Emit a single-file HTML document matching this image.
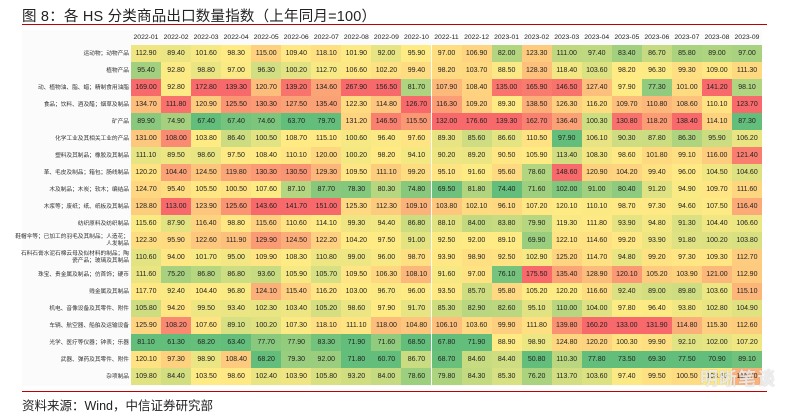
<!DOCTYPE html>
<html><head><meta charset="utf-8">
<style>
body{margin:0;width:789px;height:418px;background:#fff;position:relative;overflow:hidden;font-family:"Liberation Sans","Noto Sans CJK SC",sans-serif;}
#title{position:absolute;left:22px;top:5px;font-size:14.5px;color:#222;white-space:nowrap;letter-spacing:0.2px}
.rl{position:absolute;left:22px;height:1.5px;background:#c00000;width:745px}
#box{position:absolute;left:22px;top:30px;width:740px;height:356px;background:#fbfbfb;}
#tbl{position:absolute;left:22px;top:30px;}
.h{position:absolute;top:0;height:14.5px;line-height:15px;font-size:6.8px;color:#222;text-align:center;width:30px}
.lab{position:absolute;left:0;width:107px;font-size:5.7px;color:#333;display:flex;align-items:center;justify-content:flex-end;height:17px;padding-top:2px;box-sizing:border-box}
.lab span{display:block;text-align:right;line-height:6.8px;white-space:nowrap}
.c{position:absolute;width:30.05px;height:17px;line-height:17px;font-size:7px;color:#222;text-align:center}
#src{position:absolute;left:22px;top:395px;font-size:12.5px;color:#222}
#wm{position:absolute;left:700px;top:365px;font-size:18px;color:rgba(255,255,255,0.75);font-weight:bold;text-shadow:0 0 1px rgba(120,120,120,0.6);letter-spacing:1px}
</style></head><body>
<div id="title">图 8：各 HS 分类商品出口数量指数（上年同月=100）</div>
<div class="rl" style="top:23.5px"></div>
<div id="box"></div>
<div id="tbl"></div>
<div class="rl" style="top:390.5px"></div>
<div id="src">资料来源：Wind，中信证券研究部</div>
<div id="wm">明晰笔谈</div>
<script>
var cols=["2022-01","2022-02","2022-03","2022-04","2022-05","2022-06","2022-07","2022-08","2022-09","2022-10","2022-11","2022-12","2023-01","2023-02","2023-03","2023-04","2023-05","2023-06","2023-07","2023-08","2023-09"];
var rows=[
["运动物；动物产品",[112.9,89.4,101.6,98.3,115,109.4,118.1,101.9,92,95.9,97,106.9,82,123.3,111,97.4,83.4,86.7,85.8,89,97]],
["植物产品",[95.4,92.8,98.8,97,96.3,100.2,112.7,106.6,102.2,99.4,98.2,103.7,88.5,128.3,118.4,103.6,98.2,96.3,99.3,109,111.3]],
["动、植物油、脂、蜡；精制食用油脂",[169,92.8,172.8,139.3,120.7,139.2,134.6,267.9,156.5,81.7,107.9,108.4,135,165.9,146.5,127.4,97.9,77.3,101,141.2,98.1]],
["食品；饮料、酒及醋；烟草及制品",[134.7,111.8,120.9,125.5,130.3,127.5,135.4,122.3,114.8,126.7,116.3,109.2,89.3,138.5,126.3,116.2,109.7,110.8,108.6,110.1,123.7]],
["矿产品",[89.9,74.9,67.4,67.4,74.6,63.7,79.7,131.2,146.5,115.5,132,176.6,139.3,162.7,136.4,100.3,130.8,118.2,138.4,114.1,87.3]],
["化学工业及其相关工业的产品",[131,108,103.8,86.4,100.5,108.7,115.1,100.6,96.4,97.6,89.3,85.6,86.6,110.5,97.9,106.1,90.3,87.8,86.3,95.9,106.2]],
["塑料及其制品；橡胶及其制品",[111.1,89.5,98.6,97.5,108.4,110.1,120,100.2,98.2,94.1,90.2,89.2,90.5,105.9,113.4,108.3,98.6,101.8,99.1,116,121.4]],
["革、毛皮及制品；箱包；肠线制品",[120.2,104.4,124.5,119.8,130.3,130.5,129.3,109.5,111.1,99.2,95.1,91.6,95.6,78.6,148.6,120.9,104.2,99.4,96,104.5,104.6]],
["木及制品；木炭；软木；编结品",[124.7,95.4,105.5,100.5,107.6,87.1,87.7,78.3,80.3,74.8,69.5,81.8,74.4,71.6,102,91,80.4,91.2,94.9,109.7,111.6]],
["木浆等；废纸；纸、纸板及其制品",[128.8,113,123.9,125.6,143.6,141.7,151,125.3,112.3,109.1,103.8,102.1,96.1,107.2,120.1,110.1,98.7,97.3,94.6,107.5,116.4]],
["纺织原料及纺织制品",[115.6,87.9,116.4,98.8,115.6,110.6,114.1,99.3,94.4,86.8,88.1,84,83.8,79.9,119.3,111.8,93.9,94.8,91.3,104.4,106.6]],
["鞋帽伞等；已加工的羽毛及其制品；人造花；<br>人发制品",[122.3,95.9,122.6,111.9,129.9,124.5,122.2,104.2,97.5,91,92.5,92,89.1,69.9,122.1,114.6,99.2,93.9,91.8,100.2,103.8]],
["石料石膏水泥石棉云母及似材料的制品；陶<br>瓷产品；玻璃及其制品",[110.6,94,101.7,95,109.9,108.3,110.8,99,96,98.7,93.9,98.9,92.5,102.9,125.2,114.7,94.8,99.2,97.3,109.3,112.7]],
["珠宝、贵金属及制品；仿首饰；硬币",[111.6,75.2,86.8,86.8,93.6,105.9,105.7,109.5,106.3,108.1,91.6,97,76.1,175.5,135.4,128.9,120.1,105.2,103.9,121,112.9]],
["贱金属及其制品",[117.7,92.4,104.4,96.8,124.1,115.4,116.2,103,96.7,96,93.5,85.7,95.8,105.2,120.2,116.6,92.4,89,89.8,103.6,115.1]],
["机电、音像设备及其零件、附件",[105.8,94.2,99.5,93.4,102.3,103.4,105.2,98.6,97.9,91.7,85.3,82.9,82.6,95.1,110,104,97.8,96.4,93.8,102.8,104.9]],
["车辆、航空器、船舶及运输设备",[125.9,108.2,107.6,89.1,100.2,107.3,118.1,111.1,118,104.8,106.1,103.6,99.9,111.8,139.8,160.2,133,131.9,114.8,115.3,112.6]],
["光学、医疗等仪器；钟表；乐器",[81.1,61.3,68.2,63.4,77.7,77.9,83.3,71.9,71.6,68.5,67.8,71.9,88.9,98.9,124.8,120.2,100.3,99.9,92.1,102,107.2]],
["武器、弹药及其零件、附件",[120.1,97.3,98.9,108.4,68.2,79.3,92,71.8,60.7,86.7,68.7,84.6,84.4,50.8,110.3,77.8,73.5,69.3,77.5,70.9,89.1]],
["杂项制品",[109.8,84.4,103.5,98.6,102.4,103.9,105.8,93.2,84,78.6,79.8,84.3,85.3,76.2,113.7,103.6,97.4,99.5,100.5,108.6,115.7]]
];
var G=[99,190,123],Y=[255,235,132],R=[248,105,107];
function mix(a,b,t){return 'rgb('+a.map(function(v,i){return Math.round(v+(b[i]-v)*t)}).join(',')+')';}
var T=document.getElementById('tbl'),h='';
var x0=109,w=30.05,y0=14.5,rh=17;
cols.forEach(function(c,j){h+='<div class="h" style="left:'+(x0+j*w)+'px">'+c+'</div>';});
var stats=cols.map(function(_,j){var a=rows.map(function(r){return r[1][j]}).sort(function(p,q){return p-q});var n=a.length;var m=(a[n/2-1]+a[n/2])/2;return [a[0],m,a[n-1]];});
rows.forEach(function(r,i){
 var y=y0+i*rh;
 h+='<div class="lab" style="top:'+y+'px"><span>'+r[0]+'</span></div>';
 r[1].forEach(function(v,j){
  var s=stats[j],col;
  if(v<=s[1])col=mix(G,Y,(v-s[0])/(s[1]-s[0]));else col=mix(Y,R,(v-s[1])/(s[2]-s[1]));
  h+='<div class="c" style="left:'+(x0+j*w)+'px;top:'+y+'px;background:'+col+'">'+v.toFixed(2)+'</div>';
 });
});
T.innerHTML=h;
</script>
</body></html>
